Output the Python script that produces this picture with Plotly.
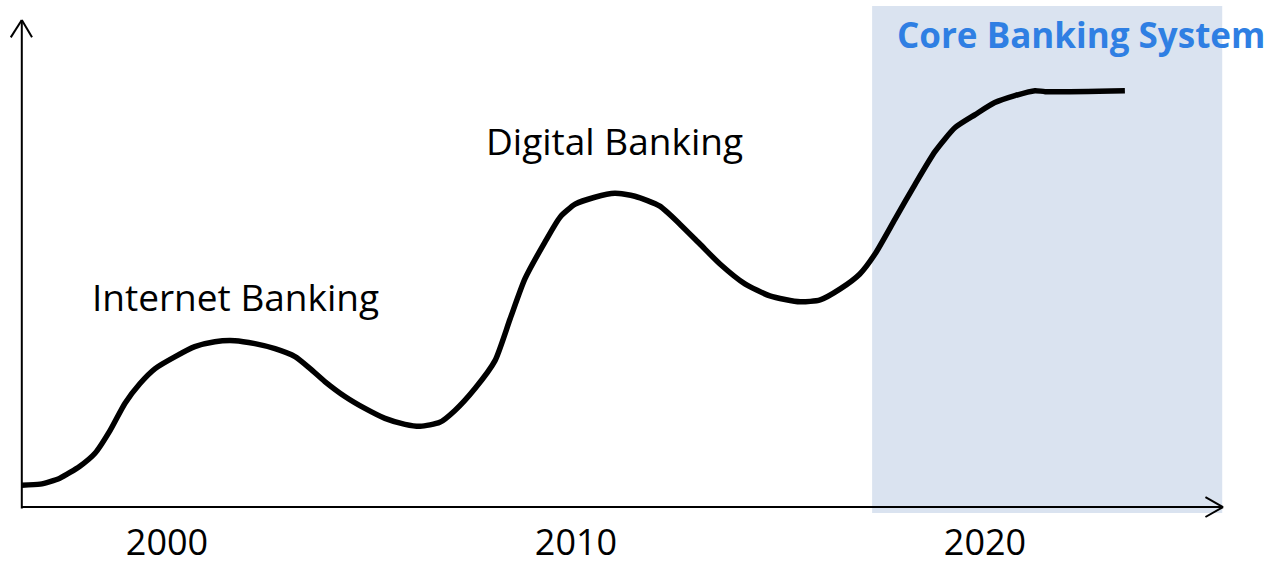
import plotly.graph_objects as go

# ---- data ----
years = [1996.45, 1996.9, 1997.38, 1997.87, 1998.24, 1998.61, 1998.97, 1999.34, 1999.71,
         2000.2, 2000.68, 2001.17, 2001.66, 2002.15, 2002.64, 2003.13, 2003.5, 2003.86,
         2004.35, 2004.84, 2005.33, 2005.82, 2006.19, 2006.67, 2007.04, 2007.53, 2008.02,
         2008.39, 2008.75, 2009.24, 2009.61, 2009.98, 2010.46, 2010.95, 2011.44, 2012.05,
         2012.54, 2013.03, 2013.52, 2014.13, 2014.74, 2015.48, 2015.97, 2016.46, 2016.94,
         2017.31, 2017.8, 2018.29, 2018.78, 2019.27, 2019.76, 2020.24, 2020.73, 2021.22,
         2021.47, 2023.42]
values = [4.4, 4.6, 5.8, 8.2, 10.8, 15.4, 20.8, 24.8, 27.8,
          30.2, 32.2, 33.2, 33.4, 32.8, 31.8, 30.2, 27.8, 25.2,
          22.2, 19.8, 17.8, 16.6, 16.2, 17.0, 19.4, 23.8, 29.4,
          37.8, 45.8, 53.2, 58.2, 60.8, 62.2, 63.0, 62.4, 60.4,
          56.8, 52.8, 48.8, 44.8, 42.4, 41.2, 41.6, 43.8, 46.8,
          50.8, 57.8, 64.8, 71.4, 76.2, 78.8, 81.2, 82.6, 83.6,
          83.4, 83.6]
tick_years = [2000, 2010, 2020]
tick_labels = ["2000", "2010", "2020"]
phase_labels = ["Internet Banking", "Digital Banking"]
phase_x = [2001.67, 2010.95]
phase_y = [42.3, 73.5]
highlight_label = "Core Banking System"

# ---- layout constants ----
X_MIN, X_MAX = 1995.917, 2026.919
Y_MIN, Y_MAX = -2.2, 101.8
AX_X0, AX_X1 = 1996.45, 2025.82
AX_Y1 = 97.8
SHADE_X0, SHADE_X1 = 2017.24, 2025.8
SHADE_Y0, SHADE_Y1 = -1.2, 100.6
FONT = "Open Sans"

fig = go.Figure()
fig.add_trace(go.Scatter(x=years, y=values, mode="lines",
                         line=dict(color="black", width=5.5, shape="spline", smoothing=0.6),
                         hoverinfo="skip", showlegend=False))

shapes = [
    dict(type="rect", xref="x", yref="y", x0=SHADE_X0, x1=SHADE_X1, y0=SHADE_Y0, y1=SHADE_Y1,
         fillcolor="#DAE3F0", line=dict(width=0), layer="below"),
    # y axis + arrow
    dict(type="line", xref="x", yref="y", x0=AX_X0, x1=AX_X0, y0=-0.3, y1=AX_Y1,
         line=dict(color="black", width=2)),
    dict(type="line", xref="x", yref="y", x0=AX_X0, x1=AX_X0 - 0.27, y0=AX_Y1, y1=AX_Y1 - 3.5,
         line=dict(color="black", width=2)),
    dict(type="line", xref="x", yref="y", x0=AX_X0, x1=AX_X0 + 0.25, y0=AX_Y1, y1=AX_Y1 - 3.5,
         line=dict(color="black", width=2)),
    # x axis + arrow
    dict(type="line", xref="x", yref="y", x0=AX_X0, x1=AX_X1, y0=0, y1=0,
         line=dict(color="black", width=2)),
    dict(type="line", xref="x", yref="y", x0=AX_X1, x1=AX_X1 - 0.43, y0=0, y1=2.0,
         line=dict(color="black", width=2)),
    dict(type="line", xref="x", yref="y", x0=AX_X1, x1=AX_X1 - 0.43, y0=0, y1=-2.0,
         line=dict(color="black", width=2)),
]

annotations = []
for t, x, y in zip(phase_labels, phase_x, phase_y):
    annotations.append(dict(x=x, y=y, xref="x", yref="y", text=t, showarrow=False,
                            xanchor="center", yanchor="middle",
                            font=dict(family=FONT, size=37, color="black")))
annotations.append(dict(x=2017.8, y=94.8, xref="x", yref="y", text=f"<b>{highlight_label}</b>",
                        showarrow=False, xanchor="left", yanchor="middle",
                        font=dict(family=FONT, size=35, color="#2F7FE3")))

fig.update_layout(
    width=1268, height=566,
    margin=dict(l=0, r=0, t=0, b=46),
    paper_bgcolor="white", plot_bgcolor="white",
    shapes=shapes, annotations=annotations,
    xaxis=dict(range=[X_MIN, X_MAX], showgrid=False, zeroline=False, showline=False,
               tickvals=tick_years, ticktext=tick_labels, ticks="",
               tickfont=dict(family=FONT, size=36, color="black")),
    yaxis=dict(range=[Y_MIN, Y_MAX], visible=False, showgrid=False, zeroline=False),
)

fig.write_html("out.html")
